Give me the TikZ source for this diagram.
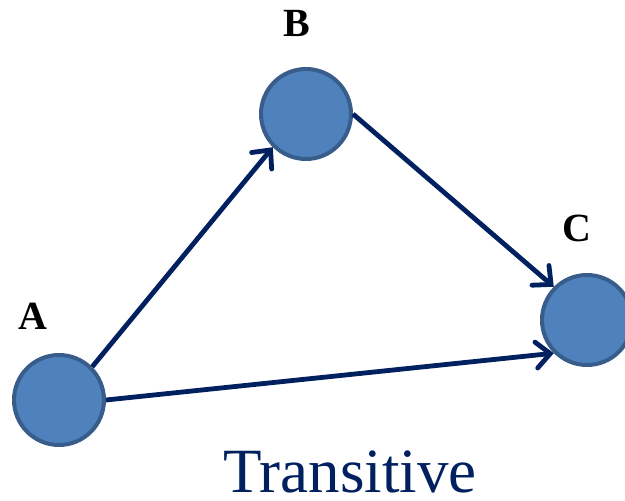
\documentclass[tikz,border=0pt]{standalone}
\usepackage{fontspec}
\setmainfont{Liberation Serif}
\usepackage{tikz}
\usetikzlibrary{arrows.meta,positioning}
\definecolor{vfill}{HTML}{4F81BD}
\definecolor{vline}{HTML}{385D8A}
\definecolor{navy}{HTML}{002060}
\tikzset{
  Vnode/.style={circle, draw=vline, fill=vfill, line width=4pt,
                minimum size=90pt, inner sep=0pt},
  Vtag/.style={font=\fontsize{40}{40}\selectfont\bfseries, anchor=base,
               inner sep=0pt},
  Earr/.style={draw=navy, line width=4.8pt,
               -{Straight Barb[length=14pt,width=26pt,line cap=round]}}
}
\begin{document}
\begin{tikzpicture}[x=1pt,y=1pt]
  \useasboundingbox (0,0) rectangle (625,501);

  \node[Vnode] (va) at (59,101) {};
  \node[Vnode] (vb) at (306,387) {};
  \node[Vnode] (vc) at (587,181) {};

  \node[Vtag] (ta) at (33,171) {A};
  \node[Vtag] (tb) at (297,464) {B};
  \node[Vtag] (tc) at (577,259) {C};

  \node[font=\fontsize{63}{63}\selectfont, text=navy, anchor=base,
        inner sep=0pt, text depth=0pt] (title) at (350,8) {Transitive};

  \draw[Earr] (va.north east) -- (vb.south west);
  \draw[Earr] (vb.east) -- (vc.north west);
  \draw[Earr] (va.east) -- (vc.225);
\end{tikzpicture}
\end{document}
